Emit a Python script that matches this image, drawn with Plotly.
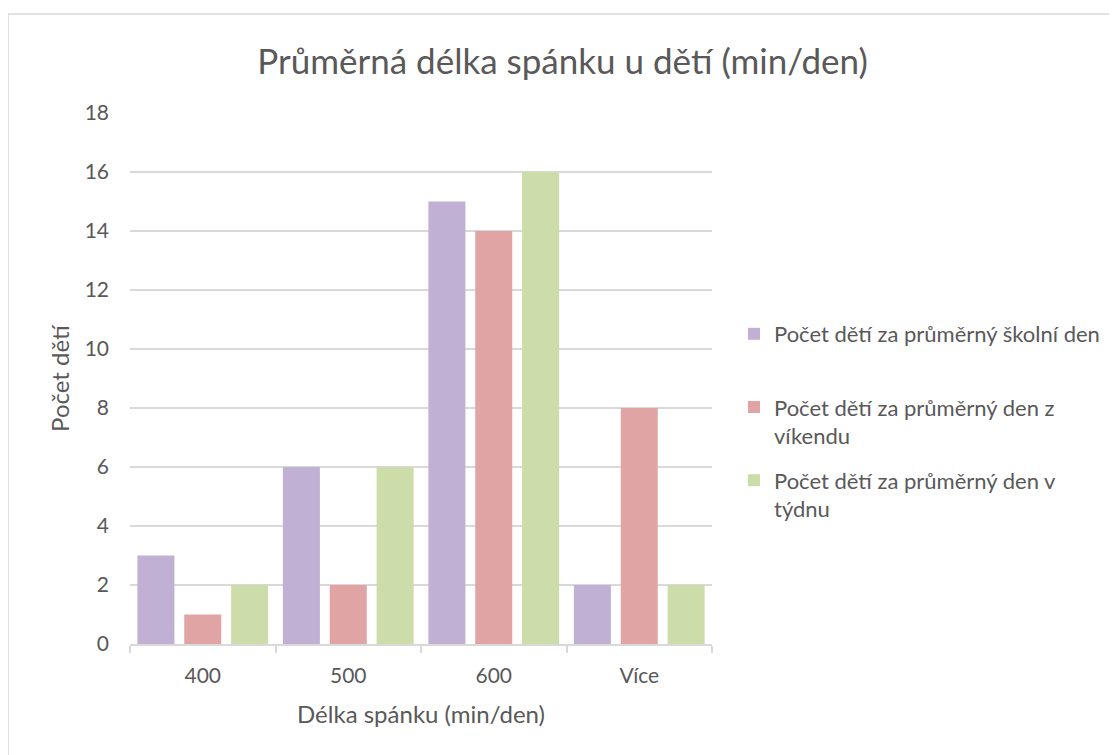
import plotly.graph_objects as go

categories = ["400", "500", "600", "Více"]
series_names = [
    "Počet dětí za průměrný školní den<br>\u00a0",
    "Počet dětí za průměrný den z<br>víkendu",
    "Počet dětí za průměrný den v<br>týdnu",
]
school_day = [3, 6, 15, 2]
weekend_day = [1, 2, 14, 8]
week_day = [2, 6, 16, 2]
y_ticks = [0, 2, 4, 6, 8, 10, 12, 14, 16, 18]

colors = ["#C0B1D4", "#E0A4A4", "#CDDDAA"]
values = [school_day, weekend_day, week_day]
FONT = "Lato"
GREY = "#595959"

fig = go.Figure()
for i, (name, vals) in enumerate(zip(series_names, values)):
    fig.add_trace(go.Bar(
        x=categories, y=vals, name=name, marker_color=colors[i],
        marker_line_width=0, legendgroup=f"g{i}",
    ))

# page has an 8px body margin, so figure coordinates = page - 8
W, H = 1109, 747
L, R, T, B = 122, 704, 105, 636
fig.update_layout(
    width=W, height=H,
    margin=dict(l=L, r=W - R, t=T, b=H - B),
    paper_bgcolor="white", plot_bgcolor="white",
    barmode="group", bargap=0.034, bargroupgap=0.21,
    font=dict(family=FONT, color=GREY, size=21),
    title=dict(text="Průměrná délka spánku u dětí (min/den)", x=0.5, xanchor="center",
               y=1 - 54 / H, yanchor="middle", font=dict(size=35, color=GREY, family=FONT)),
    legend=dict(x=(726 - L) / (R - L), xanchor="left", y=(B - 305) / (B - T), yanchor="top",
                valign="top", tracegroupgap=13, font=dict(size=22, color=GREY, family=FONT),
                bgcolor="rgba(0,0,0,0)"),
    showlegend=True,
)
fig.update_xaxes(
    type="category", showgrid=False, showline=True, linecolor="#D9D9D9", linewidth=1.5,
    ticks="outside", tickson="boundaries", ticklen=7, tickcolor="#D9D9D9", tickwidth=1.5,
    ticklabelstandoff=12,
    tickfont=dict(size=21, color=GREY),
    title=dict(text="Délka spánku (min/den)", font=dict(size=24, color=GREY), standoff=20),
)
fig.update_yaxes(
    range=[0, 18], tickvals=y_ticks, showgrid=True, gridcolor="#D9D9D9", gridwidth=1.5,
    zeroline=False, showline=False, ticks="", ticklabelstandoff=20,
    tickfont=dict(size=21, color=GREY),
    title=dict(text="Počet dětí", font=dict(size=24, color=GREY), standoff=8),
)
# outer chart border
fig.add_shape(type="rect", xref="paper", yref="paper",
              x0=(0 - L) / (R - L), x1=(1125 - L) / (R - L),
              y0=(B - 765) / (B - T), y1=(B - 6) / (B - T),
              line=dict(color="#D9D9D9", width=1.5), fillcolor="rgba(0,0,0,0)", layer="below")

fig.write_html("out.html")
